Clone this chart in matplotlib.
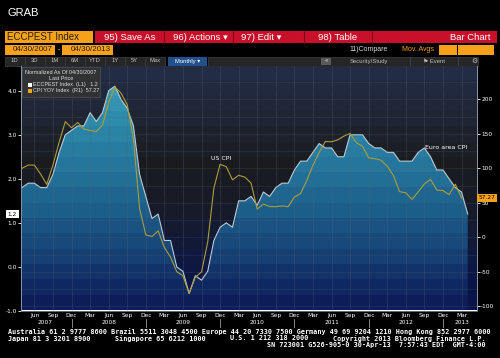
import numpy as np
import matplotlib
matplotlib.use('Agg')
import matplotlib.pyplot as plt
import matplotlib.transforms as mtransforms
from matplotlib.colors import LinearSegmentedColormap, ListedColormap
from matplotlib.patches import Rectangle
from matplotlib.ticker import MultipleLocator

# euro area CPI estimate, yoy %, Apr 2007 .. Apr 2013 (left axis)
eu_cpi = [1.8, 1.9, 1.9, 1.8, 1.8, 2.1, 2.6, 3.0, 3.1,
          3.2, 3.2, 3.5, 3.3, 3.5, 4.0, 4.1, 3.8, 3.6, 3.2, 2.1, 1.6,
          1.1, 1.2, 0.6, 0.6, 0.0, -0.1, -0.6, -0.2, -0.3, -0.1, 0.6, 0.9,
          1.0, 0.9, 1.5, 1.5, 1.6, 1.4, 1.7, 1.6, 1.8, 1.9, 1.9, 2.2,
          2.4, 2.4, 2.6, 2.8, 2.7, 2.7, 2.5, 2.5, 3.0, 3.0, 3.0, 2.8,
          2.7, 2.7, 2.6, 2.6, 2.4, 2.4, 2.4, 2.6, 2.7, 2.5, 2.2, 2.2,
          2.0, 1.8, 1.7, 1.2]

# US CPI yoy, normalized to 100 at 04/30/2007, Apr 2007 .. Mar 2013 (right axis)
us_cpi = [100.0, 104.7, 104.7, 91.8, 76.7, 105.0, 137.7, 167.7, 158.8,
          166.5, 156.8, 154.9, 153.3, 162.6, 195.3, 217.9, 209.0, 192.2, 142.4, 41.6, 3.5,
          1.2, 9.3, -14.8, -28.8, -49.8, -55.6, -81.7, -57.6, -50.2, -7.0, 71.6, 105.8,
          102.3, 83.3, 89.9, 87.2, 78.6, 40.9, 48.2, 44.7, 44.4, 45.5, 44.4, 58.4,
          63.4, 82.1, 104.3, 123.0, 138.9, 138.5, 141.2, 146.7, 150.6, 137.4, 131.9, 115.2,
          114.0, 111.7, 103.1, 89.5, 66.1, 64.6, 54.9, 65.8, 77.4, 84.0, 68.5, 67.7,
          61.9, 77.0, 57.2]

# quarterly x ticks (month index from Apr 2007)
tick_months = list(range(2, 72, 3))
tick_names = ['Jun', 'Sep', 'Dec', 'Mar'] * 6
year_pos = [3.8, 14, 26, 38, 50, 62, 71]
year_names = ['2007', '2008', '2009', '2010', '2011', '2012', '2013']

left_ticks = [-1.0, 0.0, 1.0, 2.0, 3.0, 4.0]
right_ticks = [-100, -50, 0, 50, 100, 150, 200]

ORANGE = '#f7a11a'
RED = '#c8102a'
UI = ['Liberation Sans', 'DejaVu Sans']


def banded_cmap(colors, n):
    smooth = LinearSegmentedColormap.from_list('s', colors)
    return ListedColormap(smooth(np.linspace(0, 1, n)))


def draw_header(ov):
    ov.text(8, 13, 'GRAB', color='white', fontsize=8, va='center', family=UI)

    # security box and red action bar
    ov.add_patch(Rectangle((5, 31), 88, 12, fc=ORANGE, ec='none'))
    ov.text(7, 37.3, 'ECCPEST Index', color='#2a2010', fontsize=7, va='center', family=UI)
    ov.add_patch(Rectangle((95, 31), 402, 12, fc=RED, ec='none'))
    for xs in [164, 233, 304, 372]:
        ov.plot([xs, xs], [31, 43], color='#7a0818', lw=0.8)
    for x, s in [(104, '95) Save As'), (173, '96) Actions \u25be'),
                 (241, '97) Edit \u25be'), (318, '98) Table')]:
        ov.text(x, 37.3, s, color='white', fontsize=6.8, va='center', family=UI)
    ov.text(490, 37.3, 'Bar Chart', color='white', fontsize=6.8, va='center', ha='right', family=UI)

    # date range
    ov.add_patch(Rectangle((5, 44.5), 50, 10, fc=ORANGE, ec='none'))
    ov.add_patch(Rectangle((62, 44.5), 51, 10, fc=ORANGE, ec='none'))
    ov.text(53, 49.6, '04/30/2007', color='#2a2010', fontsize=5.8, va='center', ha='right', family=UI)
    ov.text(58.5, 49.6, '-', color='white', fontsize=5, va='center', ha='center')
    ov.text(111, 49.6, '04/30/2013', color='#2a2010', fontsize=5.8, va='center', ha='right', family=UI)

    ov.text(349, 49.6, '11)Compare', color='#d8d8d8', fontsize=5, va='center', family=UI)
    ov.text(402, 49.6, 'Mov. Avgs', color=ORANGE, fontsize=5, va='center', family=UI)
    for xb in [439, 458, 476]:
        ov.add_patch(Rectangle((xb, 44.5), 17.5, 10, fc=ORANGE, ec='none'))

    # toolbar
    for k, s in enumerate(['1D', '3D', '1M', '6M', 'YTD', '1Y', '5Y', 'Max']):
        x0 = 5 + 20 * k
        ov.add_patch(Rectangle((x0, 56.5), 19.5, 9, fc='#262626', ec='#404040', lw=0.5))
        ov.text(x0 + 9.75, 61, s, color='#c0c0c0', fontsize=4.2, va='center', ha='center', family=UI)
    ov.add_patch(Rectangle((168, 56.5), 39, 9, fc='#22508c', ec='none'))
    ov.text(187.5, 61, 'Monthly \u25be', color='white', fontsize=4.2, va='center', ha='center', family=UI)
    ov.add_patch(Rectangle((208, 56.5), 270, 9, fc='#262626', ec='#404040', lw=0.5))
    ov.add_patch(Rectangle((321, 57.5), 10, 7, fc='#5a5a5a', ec='none'))
    ov.text(326, 61, '\u00ab', color='white', fontsize=4, va='center', ha='center')
    ov.text(350, 61, 'Security/Study', color='#c0c0c0', fontsize=4.2, va='center', family=UI)
    ov.text(434, 61, '\u2691 Event', color='#c0c0c0', fontsize=4.2, va='center', ha='center', family=UI)
    ov.text(474, 61, '\u2699', color='#c0c0c0', fontsize=5, va='center', ha='center')
    for xs in [410, 458]:
        ov.plot([xs, xs], [56.5, 65.5], color='#444444', lw=0.6)


def draw_footer(ov):
    ft = dict(color='white', fontsize=4.85, family='DejaVu Sans Mono', weight='bold', va='center')
    ov.text(8, 331.7, 'Australia 61 2 9777 8600 Brazil 5511 3048 4500 Europe 44 20 7330 7500 '
            'Germany 49 69 9204 1210 Hong Kong 852 2977 6000', **ft)
    ov.text(8, 338.5, 'Japan 81 3 3201 8900', **ft)
    ov.text(115, 338.5, 'Singapore 65 6212 1000', **ft)
    ov.text(230, 338.5, 'U.S. 1 212 318 2000', **ft)
    ov.text(486, 338.5, 'Copyright 2013 Bloomberg Finance L.P.', ha='right', **ft)
    ov.text(486, 345, 'SN 723001 G526-905-0 30-Apr-13  7:57:43 EDT  GMT-4:00', ha='right', **ft)


def plot_bloomberg_chart():
    fig = plt.figure(figsize=(5.0, 3.58), dpi=100, facecolor='black')

    ov = fig.add_axes([0, 0, 1, 1], zorder=-1)
    ov.set_xlim(0, 500)
    ov.set_ylim(358, 0)
    ov.axis('off')

    ax = fig.add_axes([21 / 500., 47 / 358., 456 / 500., 245 / 358.])
    ax2 = ax.twinx()

    m_eu = np.arange(len(eu_cpi))
    m_us = np.arange(len(us_cpi))
    xlim = (-0.16, 73.5)
    ylim = (-0.984, 4.559)
    ylim2 = (-106.8, 248.3)

    # banded background and area gradient
    bg = banded_cmap(['#222c42', '#1f2533', '#1a1b1f', '#171b2a', '#0f183e', '#0a134a'], 16)
    fl = banded_cmap(['#3ea2bc', '#2e8cab', '#24769c', '#1c5e8a', '#163f74', '#0c1d58'], 16)
    grad = np.linspace(0, 1, 256).reshape(-1, 1)
    ax.imshow(grad, extent=[xlim[0], xlim[1], ylim[0], ylim[1]], origin='upper',
              cmap=bg, aspect='auto', zorder=0, interpolation='nearest')
    area = ax.fill_between(m_eu, eu_cpi, ylim[0], facecolor='none', edgecolor='none')
    fim = ax.imshow(grad, extent=[xlim[0], xlim[1], ylim[0], ylim[1]], origin='upper',
                    cmap=fl, aspect='auto', zorder=1, interpolation='nearest')
    fim.set_clip_path(area.get_paths()[0], ax.transData)

    ax.plot(m_eu, eu_cpi, color='#bccad2', lw=0.8, zorder=3)
    ax2.plot(m_us, us_cpi, color='#ad9c38', lw=0.8, zorder=3)

    ax.set_xlim(*xlim)
    ax.set_ylim(*ylim)
    ax2.set_ylim(*ylim2)

    # axes styling
    ax.set_xticks(tick_months)
    ax.set_xticklabels(tick_names)
    ax.tick_params(axis='x', length=0, pad=1.5, labelsize=4.2, labelcolor='white')
    ax.set_yticks(left_ticks)
    ax.set_yticklabels(['%.1f' % v for v in left_ticks])
    ax.tick_params(axis='y', colors='white', labelsize=4.2, length=2, width=0.6, pad=1)
    ax2.set_yticks(right_ticks)
    ax2.set_yticklabels(['%d' % v for v in right_ticks])
    ax2.yaxis.set_minor_locator(MultipleLocator(25))
    ax2.tick_params(axis='y', which='major', colors='white', labelsize=4.2, length=2, width=0.6, pad=1)
    ax2.tick_params(axis='y', which='minor', length=0)
    ax.grid(axis='x', color='#586274', lw=0.4, ls=(0, (1, 1)))
    ax2.grid(axis='y', which='both', color='#586274', lw=0.4, ls=(0, (1, 1)), alpha=0.7)
    for a in (ax, ax2):
        a.spines['top'].set_visible(False)
        a.spines['bottom'].set_color('#606a7a')
        a.spines['left'].set_color('#8a96a6')
        a.spines['right'].set_color('#8a96a6')
        for s in a.spines.values():
            s.set_linewidth(0.6)

    # year labels and separators under the axis
    bl = mtransforms.blended_transform_factory(ax.transData, ov.transData)
    for p, y in zip(year_pos, year_names):
        ax.text(p, 323, y, transform=bl, color='white', fontsize=4.2, ha='center', va='center', clip_on=False)
    for m, n in zip(tick_months, tick_names):
        if n == 'Dec':
            ax.plot([m, m], [319, 327], transform=bl, color='#bbbbbb', lw=0.5, clip_on=False)

    # series labels
    ax2.text(32.2, 110, 'US CPI', color='white', fontsize=4.5, ha='center', va='bottom')
    ax.text(65.1, 2.72, 'Euro area CPI', color='white', fontsize=4.5, ha='left', va='center')

    # last value tags
    tl = mtransforms.blended_transform_factory(ov.transData, ax.transData)
    ax.text(12.5, eu_cpi[-1], '1.2', transform=tl, color='black', fontsize=4.2, ha='center', va='center',
            clip_on=False, bbox=dict(boxstyle='square,pad=0.25', fc='white', ec='none'))
    tr = mtransforms.blended_transform_factory(ov.transData, ax2.transData)
    ax2.text(487, us_cpi[-1], '57.27', transform=tr, color='black', fontsize=4.2, ha='center', va='center',
             clip_on=False, bbox=dict(boxstyle='square,pad=0.25', fc=ORANGE, ec='none'))

    # legend box
    top = fig.add_axes([0, 0, 1, 1], zorder=5)
    top.set_xlim(0, 500)
    top.set_ylim(358, 0)
    top.axis('off')
    top.add_patch(Rectangle((22, 66.5), 78, 30, fc='#333333', ec='#555555', lw=0.5, alpha=0.92))
    lt = dict(color='#e0e0e0', fontsize=3.9, va='center', family=UI)
    top.text(61, 72, 'Normalized As Of 04/30/2007', ha='center', **lt)
    top.text(61, 78, 'Last Price', ha='center', **lt)
    top.add_patch(Rectangle((28, 82.5), 4, 4, fc='white', ec='none'))
    top.add_patch(Rectangle((28, 88.5), 4, 4, fc=ORANGE, ec='none'))
    top.text(33, 84.5, 'ECCPEST Index  (L1)   1.2', **lt)
    top.text(33, 90.5, 'CPI YOY Index  (R1)  57.27', **lt)

    draw_header(ov)
    draw_footer(ov)

    fig.savefig('out.png', dpi=100, facecolor='black')
    return None


if __name__ == '__main__':
    plot_bloomberg_chart()
